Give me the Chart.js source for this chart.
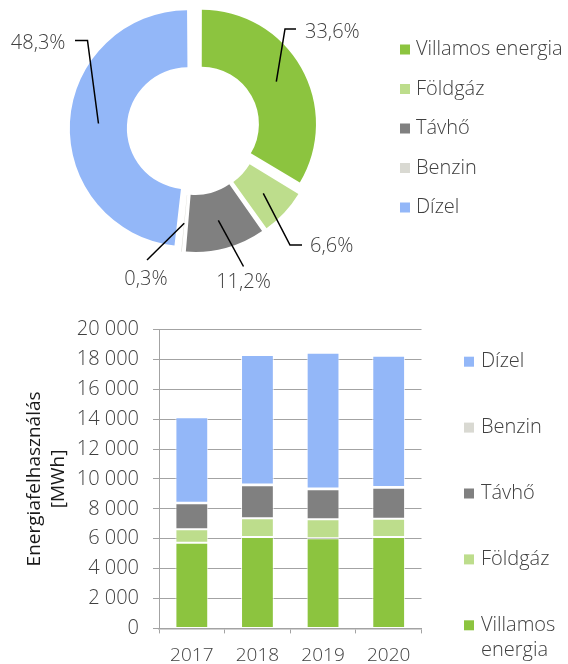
<!DOCTYPE html>
<html>
<head>
<meta charset="utf-8">
<script src="https://cdn.jsdelivr.net/npm/chart.js@4.4.1/dist/chart.umd.min.js"></script>
<style>
  html, body { margin: 0; padding: 0; background: #fff; }
  body { width: 568px; height: 664px; position: relative; overflow: hidden; }
  .box { position: absolute; left: 0; width: 568px; }
  #pieBox { top: 0; height: 300px; }
  #barBox { top: 300px; height: 364px; }
</style>
</head>
<body>
<div id="pieBox" class="box"><canvas id="pieChart"></canvas></div>
<div id="barBox" class="box"><canvas id="barChart"></canvas></div>
<script>
// energy sources, same order in both charts
const sources = ['Villamos energia', 'Földgáz', 'Távhő', 'Benzin', 'Dízel'];
const colors = ['#8cc43f', '#bddd8c', '#808080', '#d9d9d2', '#93b7f8'];

// doughnut: shares in 2020 (%)
const shares2020 = [33.6, 6.6, 11.2, 0.3, 48.3];

// stacked bars: MWh per year
const years = ['2017', '2018', '2019', '2020'];
const villamos = [5730, 6110, 6030, 6120];
const foldgaz = [900, 1250, 1270, 1220];
const tavho = [1740, 2210, 2000, 2060];
const benzin = [40, 50, 50, 55];
const dizel = [5710, 8670, 9090, 8790];
const yMax = 20000;
const yStep = 2000;
const yTitle = ['Energiafelhasználás', '[MWh]'];

const FONT = '"Open Sans", Roboto, sans-serif';
const TEXT = '#404040';
const GRID = '#a3a3a3';

Chart.defaults.font.family = FONT;
Chart.defaults.font.weight = 300;

function wrapText(ctx, text, maxWidth) {
    if (ctx.measureText(text).width <= maxWidth) return [text];
    return text.split(' ');
}

// simple legend drawn next to the plot
function sideLegend(items, o) {
    return {
        id: 'sideLegend',
        afterDraw(chart) {
            const ctx = chart.ctx;
            ctx.save();
            ctx.font = '300 ' + o.size + 'px ' + FONT;
            ctx.textBaseline = 'middle';
            ctx.textAlign = 'left';
            items.forEach((item, i) => {
                const cy = o.y + i * o.step;
                ctx.fillStyle = item.color;
                ctx.fillRect(o.x, cy - o.box / 2, o.box, o.box);
                ctx.fillStyle = TEXT;
                wrapText(ctx, item.text, o.maxWidth).forEach((line, j) => {
                    ctx.fillText(line, o.textX, cy + j * o.lineHeight);
                });
            });
            ctx.restore();
        }
    };
}

// where the percentage labels sit around the doughnut
const pieLabelPos = [
    {elbow: [285, 29], end: [296, 29], text: [305, 32], align: 'left'},
    {elbow: [290, 245], end: [302, 245], text: [310, 246.5], align: 'left'},
    {end: [243.5, 266.5], text: [243.5, 282], align: 'center'},
    {end: [147, 260], text: [146, 279.5], align: 'center'},
    {elbow: [87.5, 40.5], end: [75, 40.5], text: [65.5, 43], align: 'right'}
];

const leaderLabels = {
    id: 'leaderLabels',
    afterDatasetsDraw(chart) {
        const ctx = chart.ctx;
        const arcs = chart.getDatasetMeta(0).data;
        ctx.save();
        arcs.forEach((arc, i) => {
            const p = arc.getProps(['x', 'y', 'startAngle', 'endAngle', 'innerRadius', 'outerRadius']);
            const circ = p.endAngle - p.startAngle;
            const fix = 1 - Math.sin(Math.min(Math.PI, circ));
            const shift = (arc.options.offset || 0) / 4 * (1 + fix);
            const mid = (p.startAngle + p.endAngle) / 2;
            const r = (p.innerRadius + p.outerRadius) / 2 + shift;
            const ax = p.x + Math.cos(mid) * r;
            const ay = p.y + Math.sin(mid) * r;
            const pos = pieLabelPos[i];

            ctx.strokeStyle = '#000';
            ctx.lineWidth = 1.5;
            ctx.beginPath();
            ctx.moveTo(ax, ay);
            if (pos.elbow) ctx.lineTo(pos.elbow[0], pos.elbow[1]);
            ctx.lineTo(pos.end[0], pos.end[1]);
            ctx.stroke();

            ctx.fillStyle = TEXT;
            ctx.font = '300 20px ' + FONT;
            ctx.textAlign = pos.align;
            ctx.textBaseline = 'middle';
            const txt = shares2020[i].toFixed(1).replace('.', ',') + '%';
            ctx.fillText(txt, pos.text[0], pos.text[1]);
        });
        ctx.restore();
    }
};

const shareTotal = shares2020.reduce((a, b) => a + b, 0);
const explode = 10.7; // px each slice is pulled out

new Chart(document.getElementById('pieChart'), {
    type: 'doughnut',
    data: {
        labels: sources,
        datasets: [{
            data: shares2020,
            backgroundColor: colors,
            borderWidth: 0,
            // chart.js moves an arc by offset/4*(1+fix); pick offsets so every slice moves the same
            offset: ctx => {
                const circ = ctx.parsed / shareTotal * Math.PI * 2;
                const fix = 1 - Math.sin(Math.min(Math.PI, circ));
                return 4 * explode / (1 + fix);
            }
        }]
    },
    options: {
        responsive: true,
        maintainAspectRatio: false,
        animation: false,
        radius: 113,
        cutout: '49.5%',
        layout: {padding: {left: 0, top: 0, right: 181, bottom: 42.8}},
        plugins: {legend: {display: false}, tooltip: {enabled: false}}
    },
    plugins: [leaderLabels, sideLegend(
        sources.map((s, i) => ({text: s, color: colors[i]})),
        {x: 400, y: 49.5, step: 39.5, box: 10, textX: 416, size: 20, lineHeight: 24, maxWidth: 200}
    )]
});

const barSeries = [villamos, foldgaz, tavho, benzin, dizel];

new Chart(document.getElementById('barChart'), {
    type: 'bar',
    data: {
        labels: years,
        datasets: barSeries.map((values, i) => ({
            label: sources[i],
            data: values,
            backgroundColor: colors[i],
            borderColor: 'rgba(255,255,255,0.75)',
            borderWidth: 1,
            borderSkipped: false,
            categoryPercentage: 1,
            barPercentage: 0.5
        }))
    },
    options: {
        responsive: true,
        maintainAspectRatio: false,
        animation: false,
        layout: {padding: {left: 0, top: 29.4, right: 146.5, bottom: 0}},
        plugins: {legend: {display: false}, tooltip: {enabled: false}},
        scales: {
            x: {
                stacked: true,
                grid: {drawOnChartArea: false, drawTicks: true, tickLength: 5, color: GRID, offset: true},
                border: {color: GRID, width: 1.5},
                ticks: {font: {size: 19}, color: TEXT, padding: 10.5},
                afterFit: s => { s.height = 35.6; }
            },
            y: {
                stacked: true,
                min: 0,
                max: yMax,
                ticks: {
                    stepSize: yStep,
                    font: {size: 20},
                    color: TEXT,
                    padding: 14,
                    callback: v => String(v).replace(/\B(?=(\d{3})+(?!\d))/g, ' ')
                },
                grid: {color: GRID, tickLength: 6},
                border: {color: GRID, width: 1},
                title: {
                    display: true,
                    text: yTitle,
                    color: '#1a1a1a',
                    font: {size: 19, weight: 400, lineHeight: 1.25},
                    padding: {top: 23, bottom: 0}
                },
                afterFit: s => { s.width = 159; }
            }
        }
    },
    plugins: [sideLegend(
        barSeries.map((_, i) => ({text: sources[i], color: colors[i]})).reverse(),
        {x: 464, y: 61.7, step: 65.9, box: 10, textX: 481, size: 20, lineHeight: 25, maxWidth: 85}
    )]
});
</script>
</body>
</html>
